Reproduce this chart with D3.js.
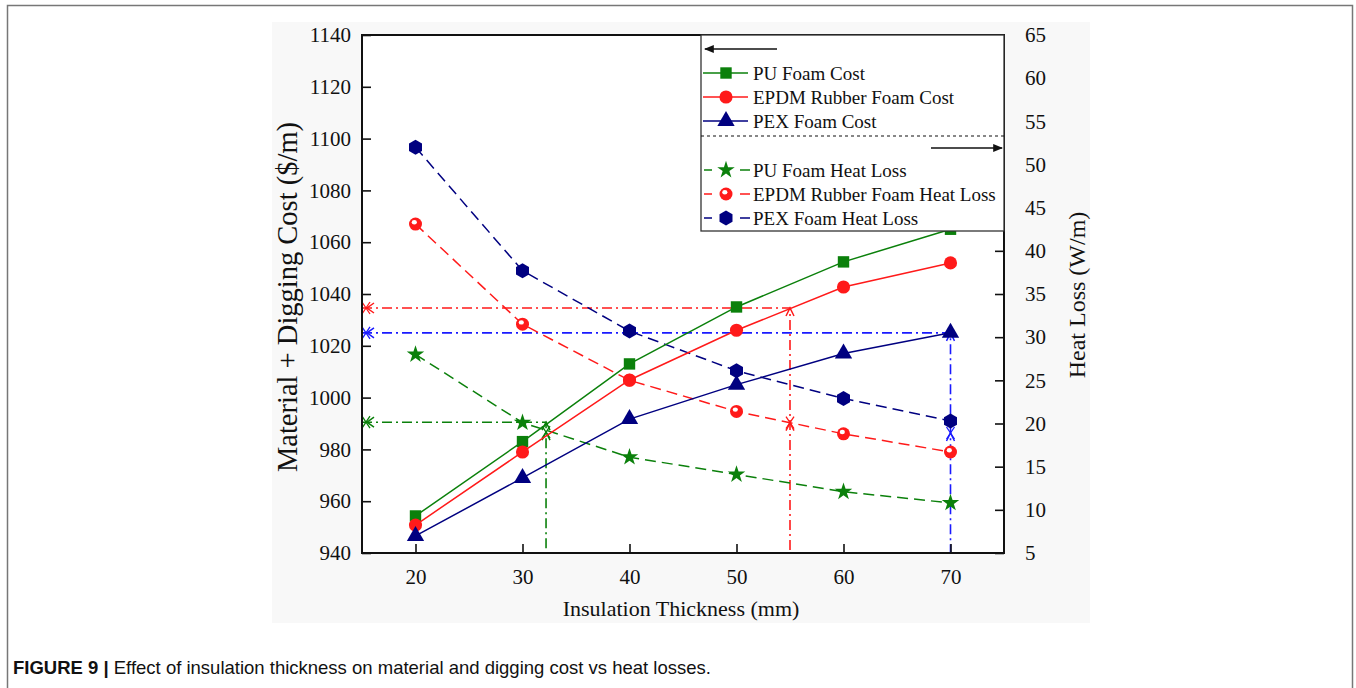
<!DOCTYPE html>
<html>
<head>
<meta charset="utf-8">
<script src="https://cdn.jsdelivr.net/npm/d3@7"></script>
<style>
  body { margin: 0; background: #ffffff; }
  text { font-family: "Liberation Serif", "Times New Roman", serif; fill: #111; }
</style>
</head>
<body>
<div id="chart"></div>
<script>
// data
var thickness = [20, 30, 40, 50, 60, 70];

var puCost   = [954.3, 983, 1013, 1035, 1052.4, 1065];
var epdmCost = [950.8, 979, 1006.8, 1026, 1042.7, 1052];
var pexCost  = [946.6, 969, 991.7, 1005, 1017, 1025];

var puHeat   = [28.0, 20.1, 16.1, 14.1, 12.1, 10.8];
var epdmHeat = [43.1, 31.5, 25.0, 21.4, 18.8, 16.7];
var pexHeat  = [52.0, 37.7, 30.7, 26.1, 22.9, 20.3];

// optimum crossing lines (green, red, blue)
var crossThick = [32.2, 55, 70];
var crossCost  = [990.5, 1034.6, 1025];
var crossHeat  = [19.0, 20.1, 18.9];

var xTicks = [20, 30, 40, 50, 60, 70];
var leftTicks = d3.range(940, 1141, 20);
var rightTicks = d3.range(5, 66, 5);

var green = "#0b800b", red = "#ff1a1a", navy = "#000080", blue = "#1a1aff";

var W = 1356, H = 688;
var svg = d3.select("#chart")
  .append("svg")
    .attr("width", W)
    .attr("height", H);

// outer figure frame and chart image background
svg.append("rect")
  .attr("x", 7.5).attr("y", 5.5)
  .attr("width", 1345).attr("height", 700)
  .attr("fill", "#ffffff")
  .attr("stroke", "#777").attr("stroke-width", 1.5);
svg.append("rect")
  .attr("x", 272).attr("y", 22)
  .attr("width", 818).attr("height", 601)
  .attr("fill", "#f8f8f8");

var x = d3.scaleLinear().domain([15, 75]).range([362, 1004]);
var yL = d3.scaleLinear().domain([940, 1140]).range([553, 35]);
var yR = d3.scaleLinear().domain([5, 65]).range([553, 35]);

// plot area
svg.append("rect")
  .attr("x", 362).attr("y", 35)
  .attr("width", 642).attr("height", 518)
  .attr("fill", "#ffffff");

// crossing lines (dash-dot)
var crossCol = [green, red, blue];
function chevron(cx, cy, dir, col) {
  // open arrowhead, dir: "left" or "up"
  var p = dir == "left"
    ? [[cx + 7, cy - 5], [cx, cy], [cx + 7, cy + 5]]
    : [[cx - 4, cy + 8], [cx, cy], [cx + 4, cy + 8]];
  svg.append("path")
    .attr("d", d3.line()(p))
    .attr("fill", "none").attr("stroke", col).attr("stroke-width", 1.5);
}
function xmark(cx, cy, col) {
  svg.append("path")
    .attr("d", "M" + (cx - 4) + "," + (cy - 6) + "L" + (cx + 4) + "," + (cy + 6) +
               "M" + (cx + 4) + "," + (cy - 6) + "L" + (cx - 4) + "," + (cy + 6))
    .attr("fill", "none").attr("stroke", col).attr("stroke-width", 1.3);
}
crossThick.forEach(function (t, i) {
  var col = crossCol[i];
  svg.append("path")
    .attr("d", d3.line()([[x(15), yL(crossCost[i])], [x(t), yL(crossCost[i])], [x(t), yL(940)]]))
    .attr("fill", "none")
    .attr("stroke", col)
    .attr("stroke-width", 1.6)
    .attr("stroke-dasharray", "10,4,2,4");
  xmark(x(15) + 4, yL(crossCost[i]), col);
  chevron(x(15) + 5, yL(crossCost[i]), "left", col);
  chevron(x(t), yL(crossCost[i]), "up", col);
  xmark(x(t), yR(crossHeat[i]), col);
  chevron(x(t), yR(crossHeat[i]), "up", col);
});

// axes, ticks pointing inward
var gx = svg.append("g")
  .attr("transform", "translate(0,553)")
  .call(d3.axisBottom(x).tickValues(xTicks).tickSize(-9).tickPadding(16));
var gl = svg.append("g")
  .attr("transform", "translate(362,0)")
  .call(d3.axisLeft(yL).tickValues(leftTicks).tickFormat(d3.format("d")).tickSize(-9).tickPadding(11));
var gr = svg.append("g")
  .attr("transform", "translate(1004,0)")
  .call(d3.axisRight(yR).tickValues(rightTicks).tickSize(-9).tickPadding(21));
[gx, gl, gr].forEach(function (g) {
  g.selectAll("path.domain").remove();
  g.selectAll("line").attr("stroke", "#111").attr("stroke-width", 1.6);
  g.selectAll("text")
    .attr("font-size", 21)
    .attr("fill", "#111");
});
// plot frame
svg.append("rect")
  .attr("x", 362).attr("y", 35)
  .attr("width", 642).attr("height", 518)
  .attr("fill", "none")
  .attr("stroke", "#111").attr("stroke-width", 2);

// series
var sizeOf = { square: 130, circle: 135, triangle: 130, star: 95 };
function hexPath(r) {
  var pts = d3.range(6).map(function (k) {
    var a = Math.PI / 6 + k * Math.PI / 3;
    return [r * Math.cos(a), r * Math.sin(a)];
  });
  return d3.line()(pts) + "Z";
}
function marker(g, type, col) {
  if (type == "hex") {
    g.append("path").attr("d", hexPath(7.5)).attr("fill", col);
  } else if (type == "ball") {
    g.append("circle").attr("r", 6.5).attr("fill", col);
    g.append("ellipse").attr("cx", -1.2).attr("cy", -1.8).attr("rx", 2.6).attr("ry", 2.2).attr("fill", "#fff");
  } else {
    var sym = { square: d3.symbolSquare, circle: d3.symbolCircle, triangle: d3.symbolTriangle, star: d3.symbolStar }[type];
    g.append("path").attr("d", d3.symbol().type(sym).size(sizeOf[type])()).attr("fill", col);
  }
}

var series = [
  { vals: puHeat,   axis: yR, col: green, dash: "11,6", mk: "star" },
  { vals: epdmHeat, axis: yR, col: red,   dash: "11,6", mk: "ball" },
  { vals: pexHeat,  axis: yR, col: navy,  dash: "11,6", mk: "hex" },
  { vals: puCost,   axis: yL, col: green, dash: null,   mk: "square" },
  { vals: epdmCost, axis: yL, col: red,   dash: null,   mk: "circle" },
  { vals: pexCost,  axis: yL, col: navy,  dash: null,   mk: "triangle" }
];
series.forEach(function (s) {
  var line = d3.line()
    .x(function (d, i) { return x(thickness[i]); })
    .y(function (d) { return s.axis(d); });
  svg.append("path")
    .attr("d", line(s.vals))
    .attr("fill", "none")
    .attr("stroke", s.col)
    .attr("stroke-width", 1.5)
    .attr("stroke-dasharray", s.dash);
  s.vals.forEach(function (v, i) {
    var g = svg.append("g")
      .attr("transform", "translate(" + x(thickness[i]) + "," + s.axis(v) + ")");
    marker(g, s.mk, s.col);
  });
});

// legend box
svg.append("rect")
  .attr("x", 701).attr("y", 35)
  .attr("width", 303).attr("height", 196)
  .attr("fill", "#ffffff")
  .attr("stroke", "#333").attr("stroke-width", 1.3);
svg.append("path")
  .attr("d", "M701,136H1004")
  .attr("stroke", "#111").attr("stroke-width", 1.2)
  .attr("stroke-dasharray", "3,3");

svg.append("defs").append("marker")
    .attr("id", "ah")
    .attr("viewBox", "0 0 10 10")
    .attr("refX", 9).attr("refY", 5)
    .attr("markerWidth", 7).attr("markerHeight", 7)
    .attr("orient", "auto")
  .append("path")
    .attr("d", "M0,1L10,5L0,9Z")
    .attr("fill", "#111");
svg.append("line")
  .attr("x1", 777).attr("y1", 49).attr("x2", 705).attr("y2", 49)
  .attr("stroke", "#111").attr("stroke-width", 1.4)
  .attr("marker-end", "url(#ah)");
svg.append("line")
  .attr("x1", 931).attr("y1", 148).attr("x2", 1002).attr("y2", 148)
  .attr("stroke", "#111").attr("stroke-width", 1.4)
  .attr("marker-end", "url(#ah)");

var legendNames = ["PU Foam Cost", "EPDM Rubber Foam Cost", "PEX Foam Cost",
                   "PU Foam Heat Loss", "EPDM Rubber Foam Heat Loss", "PEX Foam Heat Loss"];
var legendY = [73, 97, 121, 170, 194, 218];
var legendSeries = [series[3], series[4], series[5], series[0], series[1], series[2]];
legendSeries.forEach(function (s, i) {
  var ly = legendY[i];
  if (s.dash) {
    svg.append("path")
      .attr("d", "M704," + ly + "H712M740," + ly + "H750")
      .attr("stroke", s.col).attr("stroke-width", 1.5);
  } else {
    svg.append("path")
      .attr("d", "M703," + ly + "H748")
      .attr("stroke", s.col).attr("stroke-width", 1.5);
  }
  var g = svg.append("g").attr("transform", "translate(726," + ly + ")");
  marker(g, s.mk, s.col);
  svg.append("text")
    .attr("x", 753).attr("y", ly + 6.5)
    .attr("font-size", 19)
    .text(legendNames[i]);
});

// axis titles
svg.append("text")
  .attr("transform", "translate(297,297) rotate(-90)")
  .style("text-anchor", "middle")
  .attr("font-size", 28.5)
  .text("Material + Digging Cost ($/m)");
svg.append("text")
  .attr("transform", "translate(1085,295) rotate(-90)")
  .style("text-anchor", "middle")
  .attr("font-size", 24)
  .text("Heat Loss (W/m)");
svg.append("text")
  .attr("x", 681).attr("y", 616)
  .style("text-anchor", "middle")
  .attr("font-size", 22)
  .text("Insulation Thickness (mm)");

// caption
var cap = svg.append("text")
  .attr("x", 13).attr("y", 674)
  .style("font-family", "'Liberation Sans', Arial, sans-serif")
  .attr("font-size", 18.5);
cap.append("tspan").attr("font-weight", "bold").text("FIGURE 9 | ");
cap.append("tspan").text("Effect of insulation thickness on material and digging cost vs heat losses.");
</script>
</body>
</html>
